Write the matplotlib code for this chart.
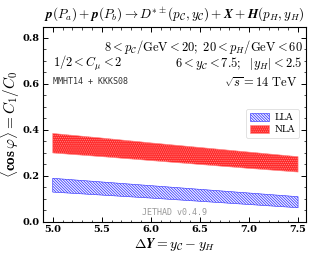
import numpy as np
import matplotlib
matplotlib.use('Agg')
import matplotlib.pyplot as plt

plt.rcParams['mathtext.fontset'] = 'cm'
plt.rcParams['font.family'] = 'serif'
plt.rcParams['font.serif'] = ['DejaVu Serif']
plt.rcParams['hatch.linewidth'] = 0.5

Y = [5.0, 5.5, 6.0, 6.5, 7.0, 7.5]
lla_lo = [0.130, 0.117, 0.104, 0.090, 0.076, 0.062]
lla_hi = [0.190, 0.174, 0.158, 0.142, 0.126, 0.110]
nla_lo = [0.300, 0.284, 0.267, 0.250, 0.233, 0.217]
nla_hi = [0.385, 0.365, 0.344, 0.324, 0.304, 0.284]

fig = plt.figure(figsize=(3.18, 2.54), dpi=100)
ax = fig.add_axes([0.135, 0.126, 0.827, 0.768])

ax.fill_between(Y, lla_lo, lla_hi, facecolor='#f0f0ff', edgecolor='#2828ff', hatch='\\' * 12, lw=0.4, label='LLA')
ax.fill_between(Y, nla_lo, nla_hi, facecolor='#ff2a2a', edgecolor='#ff8a8a', hatch='.' * 8, lw=0.4, label='NLA')

ax.set_xlim(4.9, 7.58)
ax.set_ylim(0.0, 0.848)
ax.set_xticks([5.0, 5.5, 6.0, 6.5, 7.0, 7.5])
ax.set_yticks([0.0, 0.2, 0.4, 0.6, 0.8])
ax.set_xticks(np.arange(5.0, 7.6, 0.1), minor=True)
ax.set_yticks(np.arange(0.0, 0.85, 0.05), minor=True)
ax.tick_params(which='both', direction='in', top=True, right=True, labelsize=7, pad=2.5)
ax.tick_params(which='major', length=3.5, width=0.7)
ax.tick_params(which='minor', length=1.8, width=0.5)
for lab in ax.get_xticklabels() + ax.get_yticklabels():
    lab.set_fontweight('bold')

ax.set_xlabel(r'$\mathbf{\Delta} \boldsymbol{Y = y_{\mathcal{C}} - y_H}$', fontsize=10, labelpad=1)
ax.set_ylabel(r'$\langle \mathbf{cos}\, \boldsymbol{\varphi} \rangle \boldsymbol{= C_1/C_0}$', fontsize=11)
ax.yaxis.set_label_coords(-0.08, 0.5)
ax.set_title(r'$\boldsymbol{p(P_a) + p(P_b) \to D^{*\pm}(p_{\mathcal{C}}, y_{\mathcal{C}}) + X + H(p_H, y_H)}$', fontsize=9.5, pad=6)

ax.text(0.99, 0.897, r'$8 < p_{\mathcal{C}}/\mathrm{GeV} < 20;\ 20 < p_H/\mathrm{GeV} < 60$', transform=ax.transAxes, ha='right', va='center', fontsize=9)
ax.text(0.04, 0.815, r'$\boldsymbol{1/2 < C_\mu < 2}$', transform=ax.transAxes, ha='left', va='center', fontsize=9)
ax.text(0.985, 0.815, r'$6 < y_{\mathcal{C}} < 7.5;\ \ |y_H| < 2.5$', transform=ax.transAxes, ha='right', va='center', fontsize=9)
ax.text(0.04, 0.72, 'MMHT14 + KKKS08', transform=ax.transAxes, ha='left', va='center', fontsize=6, family='monospace', color='#333333')
ax.text(0.965, 0.71, r'$\sqrt{s} = 14\ \mathrm{TeV}$', transform=ax.transAxes, ha='right', va='center', fontsize=9)
ax.text(0.5, 0.05, 'JETHAD v0.4.9', transform=ax.transAxes, ha='center', va='center', fontsize=6, family='monospace', color='#999999')

leg = ax.legend(loc='center right', bbox_to_anchor=(0.99, 0.505), fontsize=6.5, frameon=True, handlelength=2.2, handleheight=0.9, borderpad=0.4, labelspacing=0.35, handletextpad=0.6)
leg.get_frame().set_linewidth(0.5)

fig.savefig('out.png', dpi=100)
